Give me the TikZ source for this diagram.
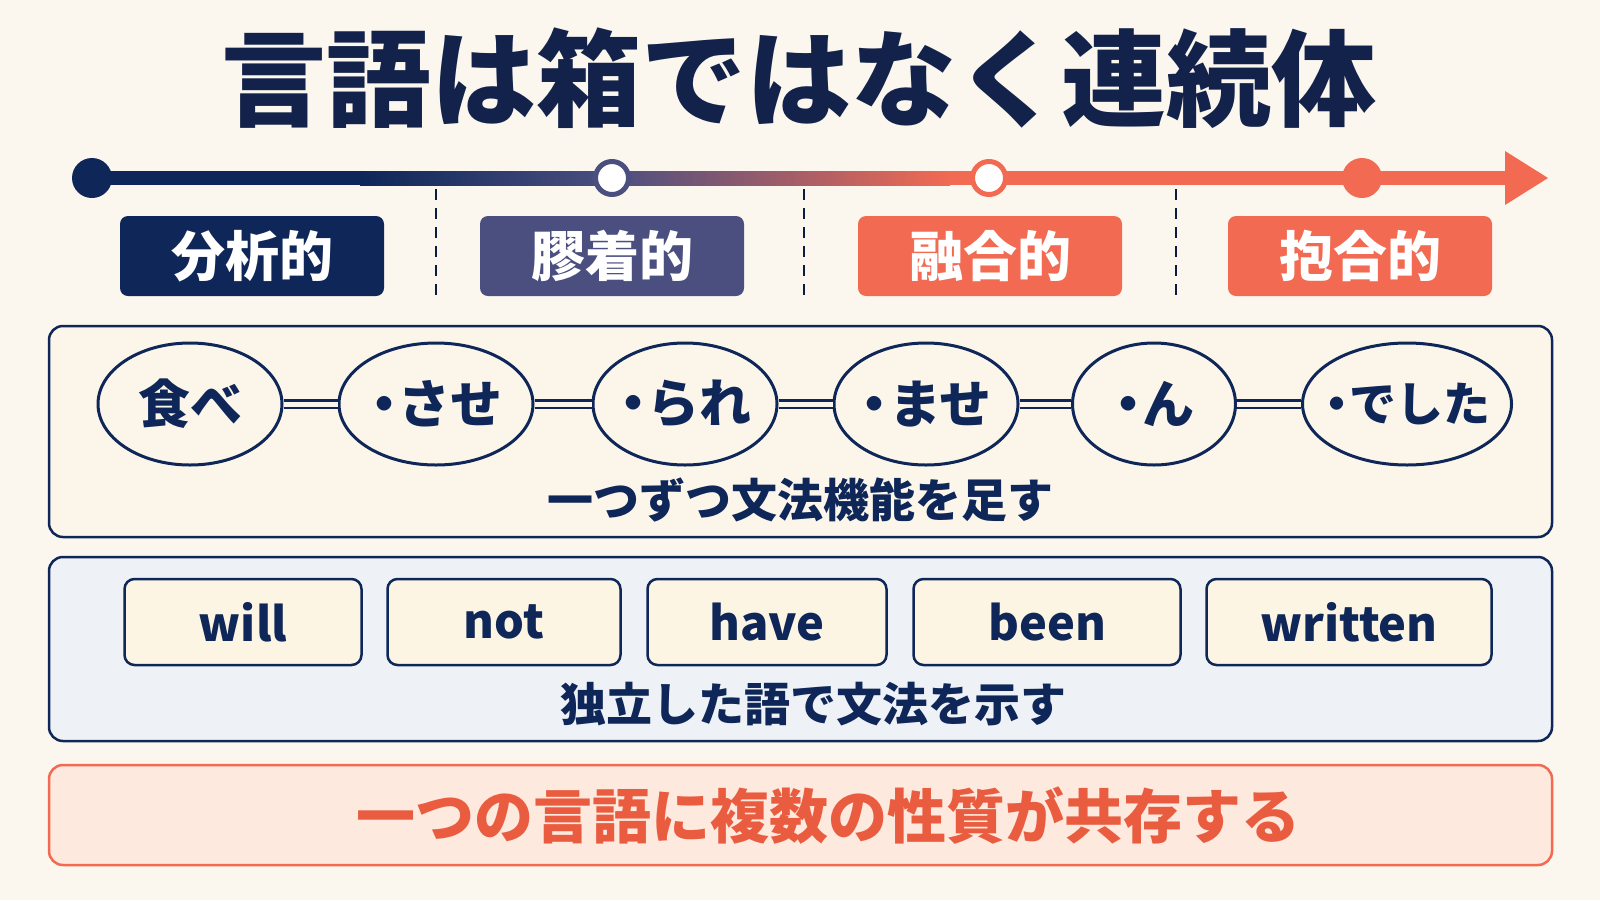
\documentclass[tikz,border=0pt]{standalone}
\usepackage{fontspec}
\setmainfont{Noto Sans CJK JP}
\usetikzlibrary{positioning,shapes.geometric,calc}
\definecolor{bg}{HTML}{FBF7EE}
\definecolor{navy}{HTML}{0E2658}
\definecolor{titlenavy}{HTML}{13224A}
\definecolor{plum}{HTML}{4B4F80}
\definecolor{coral}{HTML}{F26A52}
\definecolor{cream}{HTML}{FCF6EA}
\definecolor{wordfill}{HTML}{FDF5E3}
\definecolor{pale}{HTML}{EEF2F7}
\definecolor{blush}{HTML}{FDE9DE}
\definecolor{rust}{HTML}{E95C3F}
\newcommand{\mdot}{\hbox to 0.55em{\hss ・\hss}}
\newcommand{\mtext}[1]{\hbox to 0pt{\hss #1\hss}}

\begin{document}
\begin{tikzpicture}[x=1pt,y=-1pt,line join=round,
  lbl/.style={rounded corners=8,minimum width=264,minimum height=80,inner sep=0,text=white,font=\fontsize{54}{54}\selectfont\bfseries},
  morph/.style={ellipse,draw=navy,line width=3,fill=cream,minimum height=122,inner sep=0,text=navy,font=\fontsize{52}{52}\selectfont\bfseries},
  word/.style={rounded corners=10,draw=navy,line width=2.5,fill=wordfill,minimum height=86,inner sep=0,text=navy,font=\fontsize{47}{47}\selectfont\bfseries},
  link/.style={draw=navy,line width=2.5,double=cream,double distance=5},
  caption/.style={text=navy,font=\fontsize{46}{46}\selectfont\bfseries}]
\fill[bg] (0,0) rectangle (1600,900);
\useasboundingbox (0,0) rectangle (1600,900);

% title
\node[text=titlenavy,font=\fontsize{105}{105}\selectfont\bfseries] (title) at (799,78) {言語は箱ではなく連続体};

% timeline
\coordinate (g0) at (360,178);
\coordinate (g2) at (950,178);
\coordinate (head) at (1505,178);
\coordinate (tip) at (1548,178);
\draw[navy,line width=14] (92,178) -- (g0);
\shade[left color=navy,right color=plum] ($(g0)+(0,-7)$) rectangle (612,185);
\shade[left color=plum,right color=coral] (612,171) rectangle ($(g2)+(0,7)$);
\draw[coral,line width=14] (g2) -- (head);
\fill[coral] ($(head)+(0,-27)$) -- (tip) -- ($(head)+(0,27)$) -- cycle;
\node[circle,fill=navy,minimum size=40,inner sep=0] (t1) at (92,178) {};
\node[circle,draw=plum,fill=white,line width=5,minimum size=33,inner sep=0] (t2) at (612,178) {};
\node[circle,draw=coral,fill=white,line width=5,minimum size=33,inner sep=0] (t3) at (989,178) {};
\node[circle,fill=coral,minimum size=40,inner sep=0] (t4) at (1362,178) {};

% separators
\foreach \x in {436,804,1176}
  \draw[navy!70!black,line width=2.2,dash pattern=on 11pt off 8pt] (\x,189) -- (\x,301);

% type labels
\node[lbl,fill=navy] (a1) at (252,256) {分析的};
\node[lbl,fill=plum] (a2) at (612,256) {膠着的};
\node[lbl,fill=coral] (a3) at (990,256) {融合的};
\node[lbl,fill=coral] (a4) at (1360,256) {抱合的};

% agglutinative panel
\draw[navy,fill=cream,line width=2.5,rounded corners=14] (49,326) rectangle (1552,537);
\node[morph,minimum width=184] (e1) at (190,404) {\mtext{食べ}};
\node[morph,minimum width=194] (e2) at (436,404) {\mtext{\mdot させ}};
\node[morph,minimum width=184] (e3) at (685,404) {\mtext{\mdot られ}};
\node[morph,minimum width=184] (e4) at (926,404) {\mtext{\mdot ませ}};
\node[morph,minimum width=163] (e5) at (1154,404) {\mtext{\mdot ん}};
\node[morph,minimum width=209,font=\fontsize{47}{47}\selectfont\bfseries] (e6) at (1407,404) {\mtext{\mdot でした}};
\foreach \i/\j in {e1/e2,e2/e3,e3/e4,e4/e5,e5/e6}
  \draw[link] (\i) -- (\j);
\node[caption] (c1) at (800,500) {一つずつ文法機能を足す};

% analytic panel
\draw[navy,fill=pale,line width=2.5,rounded corners=14] (49,557) rectangle (1552,741);
\node[word,minimum width=237] (w1) at (243,622) {will};
\node[word,minimum width=233] (w2) at (504,622) {not};
\node[word,minimum width=239] (w3) at (767,622) {have};
\node[word,minimum width=267] (w4) at (1047,622) {been};
\node[word,minimum width=285] (w5) at (1349,622) {written};
\node[caption] (c2) at (813,704) {独立した語で文法を示す};

% conclusion
\draw[coral,fill=blush,line width=2.5,rounded corners=14] (49,765) rectangle (1552,865);
\node[text=rust,font=\fontsize{59}{59}\selectfont\bfseries] (c3) at (828,816) {一つの言語に複数の性質が共存する};
\end{tikzpicture}
\end{document}
